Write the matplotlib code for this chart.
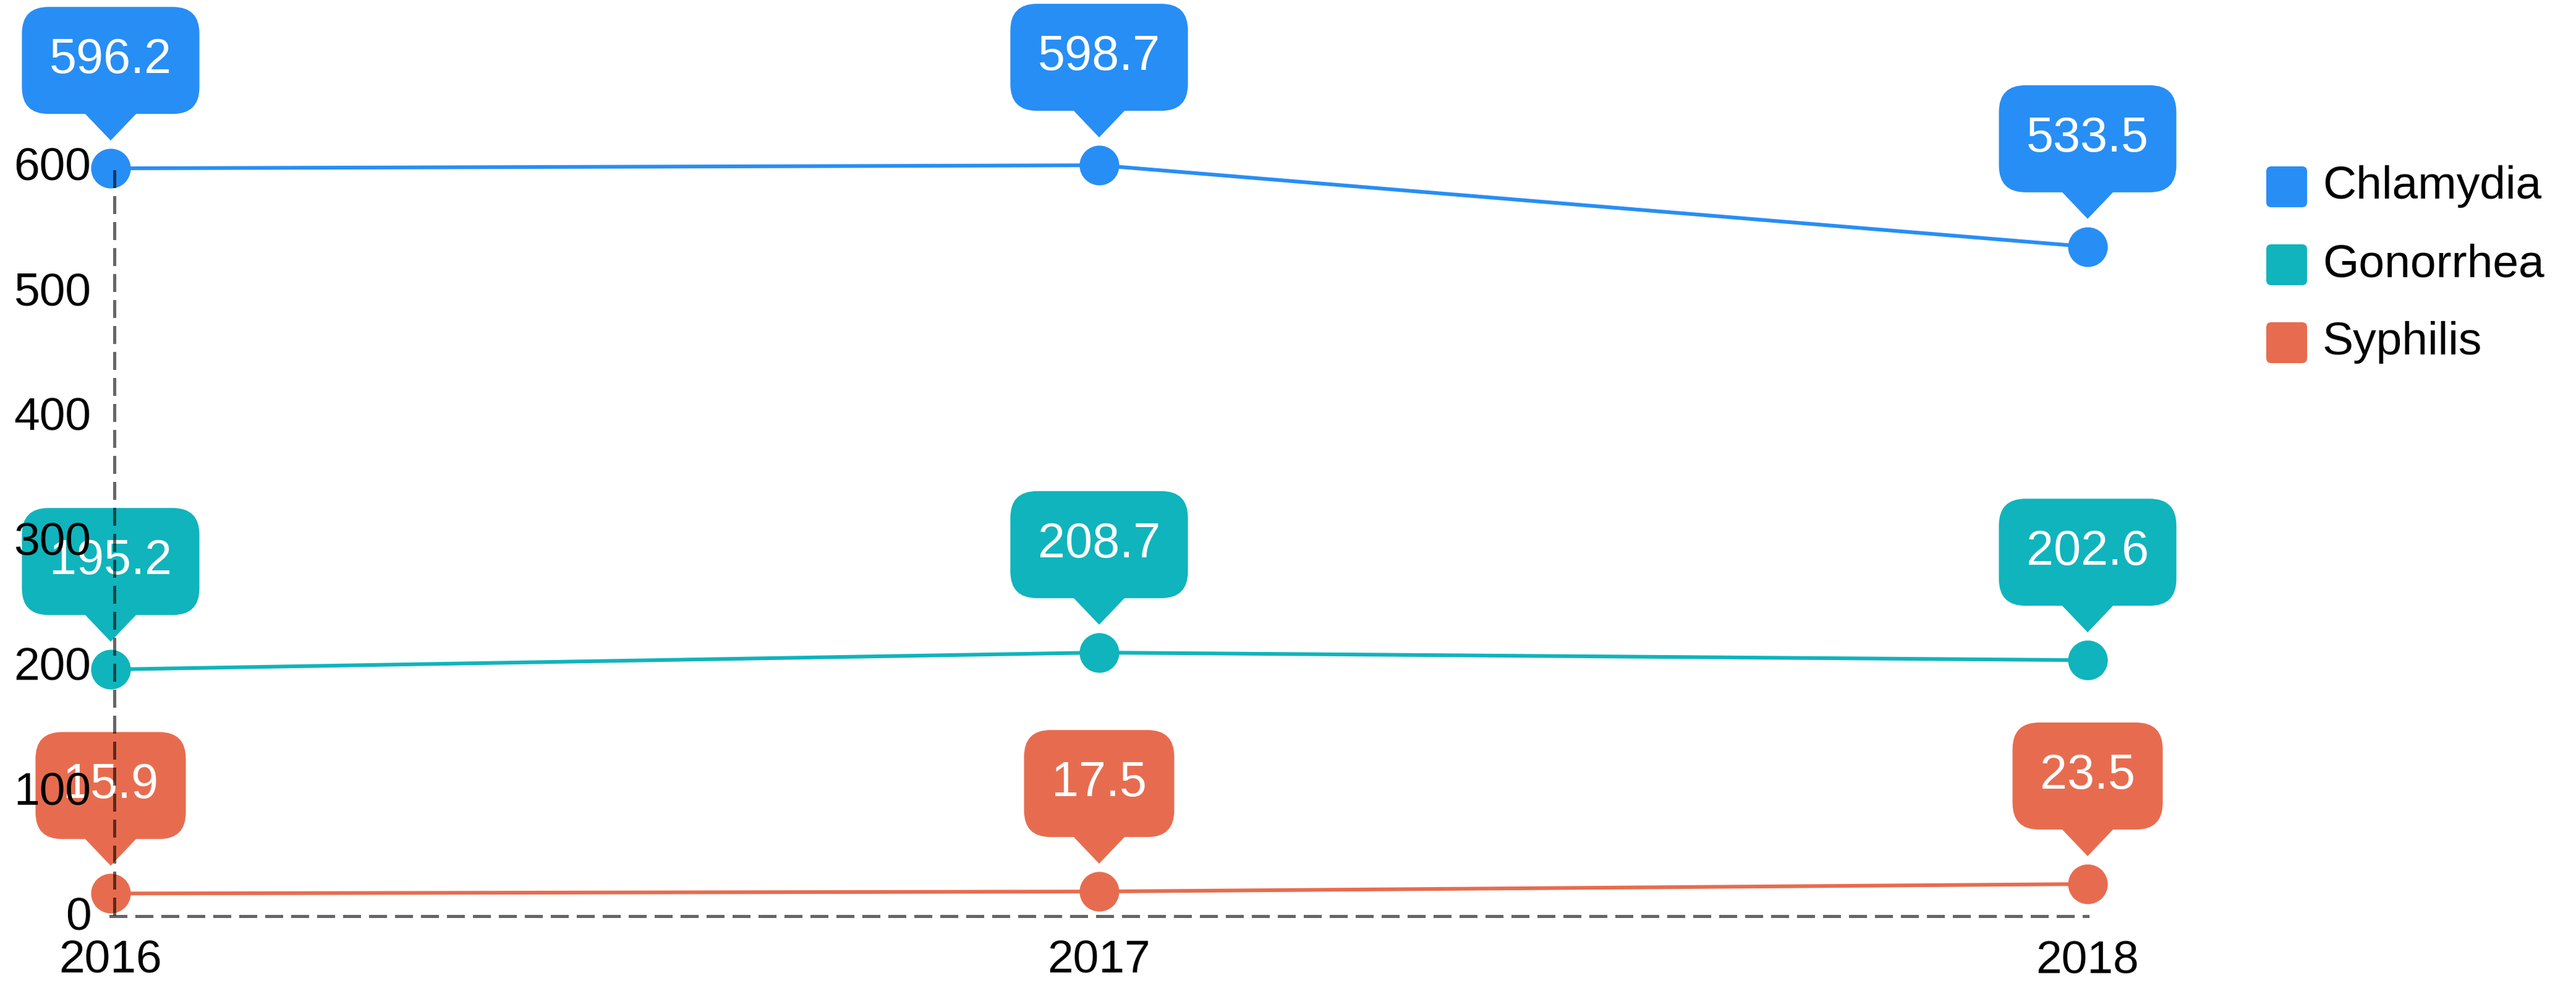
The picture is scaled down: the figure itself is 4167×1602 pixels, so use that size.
import matplotlib
matplotlib.use("Agg")
import matplotlib.pyplot as plt
import matplotlib.transforms as mtransforms
from matplotlib.patches import FancyBboxPatch, Polygon

plt.rcParams['font.family'] = ['Liberation Sans', 'DejaVu Sans']

# data
years = [2016, 2017, 2018]
chlamydia = [596.2, 598.7, 533.5]
gonorrhea = [195.2, 208.7, 202.6]
syphilis = [15.9, 17.5, 23.5]
series_names = ['Chlamydia', 'Gonorrhea', 'Syphilis']
series_colors = ['#278ef5', '#10b4bc', '#e76c4f']
y_ticks = [0, 100, 200, 300, 400, 500, 600]

W, H, DPI = 4167, 1602, 300
fig = plt.figure(figsize=(W / DPI, H / DPI), dpi=DPI)
ax = fig.add_axes([179 / W, 1 - 1476.5 / H, (3377 - 179) / W, (1476.5 - 264.5) / H])
ax.set_xlim(2016, 2018)
ax.set_ylim(0, 600)

px = 72 / DPI  # one output pixel in points

for s in ['top', 'right']:
    ax.spines[s].set_visible(False)
for s in ['left', 'bottom']:
    ax.spines[s].set_linestyle((0, (4.8, 3.6)))
    ax.spines[s].set_linewidth(5 * px)
    ax.spines[s].set_color((0, 0, 0, 0.6))
    ax.spines[s].set_zorder(10)
ax.spines['left'].set_position(('outward', -6 * px))
ax.spines['bottom'].set_position(('outward', 4.5 * px))

ax.set_xticks(years)
ax.set_xticklabels([str(y) for y in years])
ax.set_yticks(y_ticks)
ax.tick_params(axis='both', length=0, labelsize=18, colors='black')
ax.tick_params(axis='y', pad=9)
ax.tick_params(axis='x', pad=9)
ax.xaxis.set_zorder(10)
ax.yaxis.set_zorder(10)

all_series = [chlamydia, gonorrhea, syphilis]
for vals, col in zip(all_series, series_colors):
    ax.plot(years, vals, color=col, lw=6 * px, marker='o', markersize=60 * px,
            clip_on=False, zorder=2)

renderer = fig.canvas.get_renderer()

# callouts above every point
for vals, col in zip(all_series, series_colors):
    for x, y in zip(years, vals):
        tr = mtransforms.ScaledTranslation(x, y, ax.transData)
        t = ax.text(0, 174.5, f'{y:.1f}', color='white', fontsize=19,
                    ha='center', va='center', transform=tr, zorder=4, clip_on=False)
        tw = t.get_window_extent(renderer).width
        half = tw / 2 + 44.5
        box = FancyBboxPatch((-half, 88), 2 * half, 173,
                             boxstyle='round,pad=0,rounding_size=43',
                             facecolor=col, edgecolor='none', transform=tr,
                             zorder=3, clip_on=False)
        ax.add_patch(box)
        tri = Polygon([(-42, 89), (42, 89), (0, 45)], closed=True, facecolor=col,
                      edgecolor='none', transform=tr, zorder=3, clip_on=False)
        ax.add_patch(tri)

# legend
ident = mtransforms.IdentityTransform()
for i, (name, col) in enumerate(zip(series_names, series_colors)):
    cy = H - (302 + 126 * i)
    sq = FancyBboxPatch((3666, cy - 33), 66, 66,
                        boxstyle='round,pad=0,rounding_size=8',
                        facecolor=col, edgecolor='none', transform=ident)
    fig.add_artist(sq)
    fig.text(3757 / W, cy / H, name, fontsize=18, color='black', va='center', ha='left')

fig.savefig('out.png', dpi=DPI, facecolor='white')
